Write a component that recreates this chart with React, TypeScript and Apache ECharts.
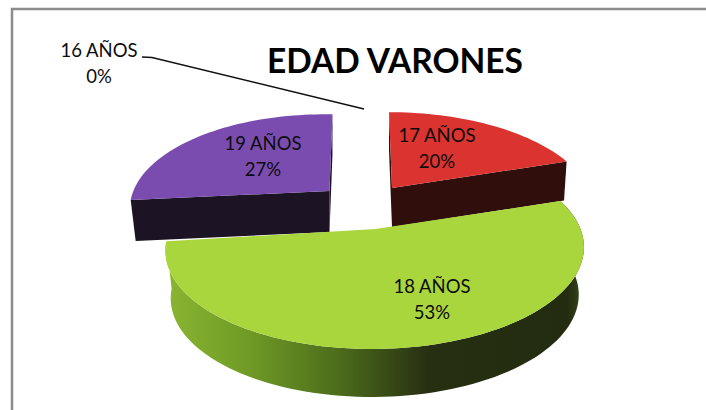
import React, { useEffect, useRef } from "react";
import * as echarts from "echarts";

const categories = ["16 AÑOS", "17 AÑOS", "18 AÑOS", "19 AÑOS"];
const shares = [0, 20, 53, 27];
const chartTitle = "EDAD VARONES";

const FONT = "Lato, 'Open Sans', sans-serif";
const total = shares.reduce((a, b) => a + b, 0);
const starts = shares.map((_, i) => shares.slice(0, i).reduce((a, b) => a + b, 0));

type Layout = {
  cx: number; cy: number; rx: number; ry: number; k: number; sx: number; t: number;
  depth: number; dk: number; sb: number; top: string; side: any; showRim: boolean; cuts: boolean;
  label: [number, number];
};

const layouts: Record<number, Layout> = {
  1: { cx: 392, cy: 188, rx: 196, ry: 91, k: 0.2, sx: -3, t: 0, depth: 39, dk: 0, sb: 0.985, top: "#da3330", side: "#2f0e0c", showRim: false, cuts: true, label: [437, 148] },
  2: {
    cx: 375.5, cy: 229, rx: 205, ry: 96, k: 0.2, sx: 4, t: 0, depth: 47.5, dk: 0.5, sb: 0.975, top: "#a9d63c",
    side: new echarts.graphic.LinearGradient(0, 0, 1, 0, [
      { offset: 0, color: "#8ab631" },
      { offset: 0.2, color: "#6f9a26" },
      { offset: 0.42, color: "#4b6b1b" },
      { offset: 0.63, color: "#272f12" },
      { offset: 0.96, color: "#232c10" },
      { offset: 1, color: "#3a4a1a" },
    ]),
    showRim: true, cuts: false, label: [432, 299],
  },
  3: { cx: 329.5, cy: 191, rx: 195, ry: 92, k: 0.2, sx: 3, t: 2.8, depth: 41, dk: 0, sb: 0.975, top: "#7b4cb0", side: "#1c1424", showRim: false, cuts: true, label: [263, 156] },
};

const drawOrder = [1, 3, 2];

function project(l: Layout, deg: number, bottom = false): number[] {
  const a = (deg * Math.PI) / 180;
  const X = Math.sin(a);
  const Y = Math.cos(a);
  const d = 1 + l.k * Y;
  const dx = (l.rx * X) / d + l.sx * Y;
  const dy = (-l.ry * Y) / d + l.t * X;
  if (!bottom) return [l.cx + dx, l.cy + dy];
  return [l.cx + dx * l.sb, l.cy + dy + l.depth - l.dk * Y];
}

function rim(l: Layout, from: number, to: number, bottom = false): number[][] {
  const pts: number[][] = [];
  const n = Math.max(2, Math.ceil(Math.abs(to - from) / 2));
  for (let i = 0; i <= n; i++) pts.push(project(l, from + ((to - from) * i) / n, bottom));
  return pts;
}

function renderItem(_: any, api: any) {
  const idx = api.value(0) as number;
  const l = layouts[idx];
  const a0 = (starts[idx] / total) * 360;
  const a1 = ((starts[idx] + shares[idx]) / total) * 360;
  const children: any[] = [];
  const apexTop = [l.cx, l.cy];
  const apexBot = [l.cx, l.cy + l.depth];
  if (l.cuts) {
    for (const a of [a0, a1]) {
      children.push({
        type: "polygon",
        shape: { points: [apexTop, project(l, a), project(l, a, true), apexBot] },
        style: { fill: l.side },
      });
    }
  }
  if (l.showRim) {
    children.push({
      type: "polygon",
      shape: { points: [...rim(l, a0, a1), ...rim(l, a1, a0, true)] },
      style: { fill: l.side },
    });
  }
  children.push({
    type: "polygon",
    shape: { points: [apexTop, ...rim(l, a0, a1)] },
    style: { fill: l.top },
  });
  return { type: "group", children };
}

function labelText(i: number) {
  return `${categories[i]}\n${Math.round((shares[i] / total) * 100)}%`;
}

function labelEl(i: number, x: number, y: number) {
  return {
    type: "text",
    x,
    y,
    z: 10,
    style: {
      text: labelText(i),
      font: `18.5px ${FONT}`,
      fill: "#0c0c0c",
      align: "center",
      verticalAlign: "middle",
      lineHeight: 26,
    },
  };
}

export default function App() {
  const ref = useRef<HTMLDivElement>(null);
  useEffect(() => {
    document.body.style.margin = "0";
    document.body.style.overflow = "hidden";
    const chart = echarts.init(ref.current!, null, { renderer: "svg" });
    chart.setOption({
      animation: false,
      backgroundColor: "#ffffff",
      title: {
        text: chartTitle,
        left: 390,
        top: 38,
        textAlign: "center",
        textStyle: { fontFamily: FONT, fontSize: 33.5, fontWeight: "bold", color: "#000000" },
      },
      series: [
        {
          type: "custom",
          coordinateSystem: "none",
          renderItem,
          silent: true,
          data: drawOrder.map((i) => [i, shares[i]]),
        },
      ],
      graphic: [
        { type: "polyline", z: 0, shape: { points: [[12, 410], [12, 9], [706, 9]] }, style: { fill: "none", stroke: "#8c8c8c", lineWidth: 2.5 } },
        { type: "polyline", z: 10, shape: { points: [[142, 57], [152, 57.5], [364, 109]] }, style: { fill: "none", stroke: "#111111", lineWidth: 1.5 } },
        labelEl(0, 99, 63),
        ...drawOrder.map((i) => labelEl(i, layouts[i].label[0], layouts[i].label[1])),
      ],
    });
    return () => chart.dispose();
  }, []);
  return <div ref={ref} style={{ width: 706, height: 410 }} />;
}
